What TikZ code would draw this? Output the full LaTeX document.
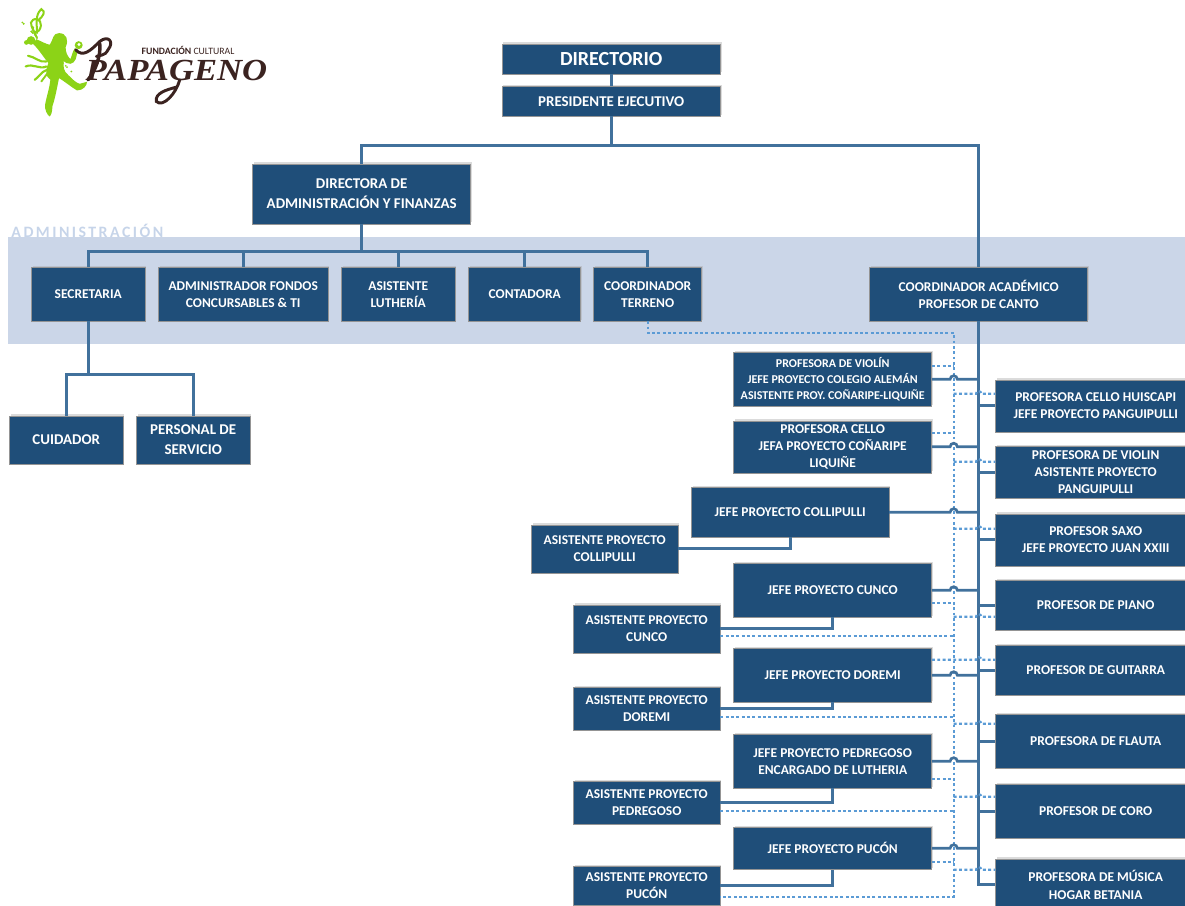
\documentclass[tikz,border=0pt]{standalone}
\usepackage{fontspec}
\setmainfont{Carlito}
\newfontfamily\spacedfont[LetterSpace=15.5]{Carlito}
\newfontfamily\logofont{Liberation Serif}
\usetikzlibrary{shadows}

\definecolor{cargoblue}{HTML}{1F4E79}
\definecolor{linkblue}{HTML}{41719C}
\definecolor{dotblue}{HTML}{5B9BD5}
\definecolor{bandblue}{HTML}{CBD6E8}
\definecolor{adminblue}{HTML}{C6D4E9}
\definecolor{logogreen}{HTML}{8CD317}
\definecolor{logobrown}{HTML}{3B2320}

\tikzset{
  cargo/.style={draw=black!42,line width=0.35pt,fill=cargoblue,text=white,align=center,inner sep=0pt,
    font=\bfseries\fontsize{10.1}{12.9}\selectfont,
    drop shadow={shadow xshift=1pt,shadow yshift=1pt,fill=black!35,opacity=.4}},
  bigcargo/.style={cargo,font=\bfseries\fontsize{11.2}{13.5}\selectfont},
  mainline/.style={draw=linkblue,line width=2.4pt},
  subline/.style={draw=linkblue,line width=2pt},
  dotline/.style={draw=dotblue,line width=1.6pt,dash pattern=on 2.2pt off 1.8pt},
  leaf/.style={draw=none,fill=logogreen}
}

\begin{document}
\begin{tikzpicture}[x=0.75pt,y=0.75pt,yscale=-1]
\useasboundingbox (0.3,0.2) rectangle (1185.3,906.2);

%Administration band
\fill [bandblue] (8.3,237.2) rectangle (1190,344.2);
\node [name=admintitle,anchor=west,inner sep=0pt,text=adminblue,font=\spacedfont\bfseries\fontsize{11.9}{12}\selectfont] at (11.5,231.5) {ADMINISTRACIÓN};

%Top boxes
\node [bigcargo,minimum width=164pt,minimum height=22.5pt,font=\bfseries\fontsize{15}{16}\selectfont] (directorio) at (611.5,59) {DIRECTORIO};
\node [bigcargo,minimum width=164pt,minimum height=22pt] (presidente) at (611.5,101.5) {PRESIDENTE EJECUTIVO};
\node [bigcargo,minimum width=163.5pt,minimum height=45pt] (directora) at (362,194) {DIRECTORA DE\\[1pt]ADMINISTRACIÓN Y FINANZAS};

%Administration row
\node [cargo,minimum width=85pt,minimum height=40pt] (secretaria) at (88.5,294.5) {SECRETARIA};
\node [cargo,minimum width=127pt,minimum height=40pt] (fondos) at (243.5,294.5) {ADMINISTRADOR FONDOS\\CONCURSABLES \& TI};
\node [cargo,minimum width=85pt,minimum height=40pt] (luthier) at (398.5,294.5) {ASISTENTE\\LUTHERÍA};
\node [cargo,minimum width=84pt,minimum height=40pt] (contadora) at (525,294.5) {CONTADORA};
\node [cargo,minimum width=81pt,minimum height=40pt] (terreno) at (648,294.5) {COORDINADOR\\TERRENO};
\node [cargo,minimum width=163.5pt,minimum height=40pt] (academico) at (979,294.5) {COORDINADOR ACADÉMICO\\PROFESOR DE CANTO};
\node [bigcargo,minimum width=85pt,minimum height=36pt] (cuidador) at (66.5,440) {CUIDADOR};
\node [bigcargo,minimum width=85pt,minimum height=36pt] (servicio) at (193.5,440) {PERSONAL DE\\[1pt]SERVICIO};

%Projects, left column
\node [cargo,minimum width=148.5pt,minimum height=40pt,font=\bfseries\fontsize{9}{11.7}\selectfont] (violin) at (833,379.5) {PROFESORA DE VIOLÍN\\JEFE PROYECTO COLEGIO ALEMÁN\\ASISTENTE PROY. COÑARIPE-LIQUIÑE};
\node [cargo,minimum width=148.5pt,minimum height=39pt] (cello) at (833,447) {PROFESORA CELLO\\JEFA PROYECTO COÑARIPE\\LIQUIÑE};
\node [cargo,minimum width=148pt,minimum height=37pt] (collipulli) at (790.5,512.5) {JEFE PROYECTO COLLIPULLI};
\node [cargo,minimum width=148.5pt,minimum height=40pt] (cunco) at (833,590.5) {JEFE PROYECTO CUNCO};
\node [cargo,minimum width=148.5pt,minimum height=40pt] (doremi) at (833,675.5) {JEFE PROYECTO DOREMI};
\node [cargo,minimum width=148.5pt,minimum height=40pt] (pedregoso) at (833,761.5) {JEFE PROYECTO PEDREGOSO\\ENCARGADO DE LUTHERIA};
\node [cargo,minimum width=148.5pt,minimum height=32pt] (pucon) at (833,848.5) {JEFE PROYECTO PUCÓN};

%Assistants
\node [cargo,minimum width=110pt,minimum height=36pt] (acollipulli) at (605,549) {ASISTENTE PROYECTO\\COLLIPULLI};
\node [cargo,minimum width=110pt,minimum height=36pt] (acunco) at (647,629) {ASISTENTE PROYECTO\\CUNCO};
\node [cargo,minimum width=110pt,minimum height=32pt] (adoremi) at (647,709) {ASISTENTE PROYECTO\\DOREMI};
\node [cargo,minimum width=110pt,minimum height=32pt] (apedregoso) at (647,803) {ASISTENTE PROYECTO\\PEDREGOSO};
\node [cargo,minimum width=110pt,minimum height=29pt] (apucon) at (647,886) {ASISTENTE PROYECTO\\PUCÓN};

%Teachers, right column
\node [cargo,minimum width=150pt,minimum height=39pt] (huiscapi) at (1096,406) {PROFESORA CELLO HUISCAPI\\JEFE PROYECTO PANGUIPULLI};
\node [cargo,minimum width=150pt,minimum height=39pt] (violinp) at (1096,472.5) {PROFESORA DE VIOLIN\\ASISTENTE PROYECTO\\PANGUIPULLI};
\node [cargo,minimum width=150pt,minimum height=39pt] (saxo) at (1096,540) {PROFESOR SAXO\\JEFE PROYECTO JUAN XXIII};
\node [cargo,minimum width=150pt,minimum height=37pt] (piano) at (1096,605.5) {PROFESOR DE PIANO};
\node [cargo,minimum width=150pt,minimum height=37pt] (guitarra) at (1096,670.5) {PROFESOR DE GUITARRA};
\node [cargo,minimum width=150pt,minimum height=40pt] (flauta) at (1096,741.5) {PROFESORA DE FLAUTA};
\node [cargo,minimum width=150pt,minimum height=40pt] (coro) at (1096,811.5) {PROFESOR DE CORO};
\node [cargo,minimum width=150pt,minimum height=39pt] (musica) at (1096,885) {PROFESORA DE MÚSICA\\HOGAR BETANIA};

%Coordinates for the two long rails
\coordinate (railtop) at (979,146);
\coordinate (railbot) at (979,885);
\coordinate (dotcorner) at (954,333);
\coordinate (dotbot) at (954,897);

%Solid connectors
\draw [mainline] (directorio) -- (presidente);
\draw [mainline] (presidente.south) -- (presidente.south |- railtop);
\draw [mainline] (directora.north) |- (railtop) -- (academico.north);
\draw [mainline] (academico.south) -- (railbot) -- (musica.west);
\foreach \n in {secretaria,fondos,luthier,contadora,terreno}
  \draw [subline] (directora.south) -- (directora.south |- 0,252) -| (\n.north);
\draw [mainline] (secretaria.south) -- (secretaria.south |- 0,375);
\foreach \n in {cuidador,servicio}
  \draw [subline] (secretaria.south |- 0,375) -| (\n.north);
\foreach \n in {huiscapi,violinp,saxo,piano,guitarra,flauta,coro}
  \draw [subline] (\n.west) -- (\n.west -| railbot);
\foreach \n/\m in {acollipulli/collipulli,acunco/cunco,adoremi/doremi,apedregoso/pedregoso,apucon/pucon}
  \draw [subline] (\n.east) -| (\m.south);

%Dotted connectors
\draw [dotline] (terreno.south) |- (dotcorner) -- (dotbot) -- (dotbot -| apucon.east);
\draw [dotline] (violin.east |- 0,366) -- (dotcorner |- 0,366);
\draw [dotline] (cello.east |- 0,433) -- (dotcorner |- 0,433);
\draw [dotline] (cunco.east |- 0,603) -- (dotcorner |- 0,603);
\draw [dotline] (acunco.east |- 0,636) -- (dotcorner |- 0,636);
\draw [dotline] (adoremi.east |- 0,717) -- (dotcorner |- 0,717);
\draw [dotline] (pedregoso.east |- 0,779) -- (dotcorner |- 0,779);
\draw [dotline] (apedregoso.east |- 0,811) -- (dotcorner |- 0,811);
\draw [dotline] (pucon.east |- 0,862) -- (dotcorner |- 0,862);
\foreach \n/\yy in {huiscapi/394,violinp/462,saxo/529,piano/617,flauta/724,coro/797,musica/870}
  \draw [dotline] (dotcorner |- 0,\yy) -- ([xshift=-2pt]railbot |- 0,\yy) arc [start angle=180,end angle=360,radius=2pt] -- (\n.west |- 0,\yy);
\draw [dotline] (doremi.east |- 0,660) -- ([xshift=-2pt]railbot |- 0,660) arc [start angle=180,end angle=360,radius=2pt] -- (guitarra.west |- 0,660);

%Project lines hop over the dotted rail
\foreach \n in {violin,cello,collipulli,cunco,doremi,pedregoso,pucon}
  \draw [subline] (\n.east) -- ([xshift=-2.7pt]\n.east -| dotcorner) arc [start angle=180,end angle=360,radius=2.7pt] -- (\n.east -| railbot);

%Logo
\begin{scope}[x=0.25pt,y=0.25pt]
\fill [leaf] (150,135) .. controls (162,118) and (158,100) .. (178,100) .. controls (200,100) and (208,120) .. (198,142)
  .. controls (196,155) and (205,172) .. (212,178) .. controls (218,165) and (218,155) .. (226,145) -- (233,150)
  .. controls (232,170) and (228,190) .. (212,192) .. controls (202,192) and (196,188) .. (192,184)
  .. controls (190,200) and (192,215) .. (205,225) .. controls (218,238) and (230,250) .. (240,252)
  -- (262,246) .. controls (262,258) and (250,272) .. (232,272) .. controls (215,262) and (195,245) .. (178,235)
  .. controls (172,262) and (168,290) .. (158,320) .. controls (158,335) and (155,345) .. (150,350)
  .. controls (142,345) and (135,330) .. (136,315) .. controls (142,285) and (150,262) .. (152,240)
  .. controls (135,230) and (138,205) .. (146,190) .. controls (130,170) and (118,150) .. (100,132) -- (110,118)
  .. controls (125,125) and (138,132) .. (150,135) -- cycle;
\fill [leaf] (94,122) circle [radius=13];
\fill [leaf] (80,128) circle [radius=7];
\draw [logogreen,line width=1.5pt,line cap=round] (112,115) .. controls (100,85) and (85,70) .. (100,60) .. controls (118,50) and (132,72) .. (118,92) .. controls (108,102) and (96,95) .. (100,82);
\draw [logogreen,line width=1.5pt,line cap=round] (112,100) .. controls (112,75) and (105,45) .. (125,28) .. controls (140,35) and (130,50) .. (115,62);
\foreach \xa/\ya/\xb/\yb in {165,100,152,105,172,95,158,72,180,95,178,68,190,98,202,72,198,110,215,98}
  \draw [logogreen,line width=1.4pt,line cap=round] (\xa,\ya) -- (\xb,\yb);
\draw [logogreen,line width=1.6pt,line cap=round] (140,185) .. controls (120,190) and (105,170) .. (85,168);
\draw [logogreen,line width=1.6pt,line cap=round] (140,200) .. controls (120,210) and (100,190) .. (78,200);
\draw [logogreen,line width=1.6pt,line cap=round] (142,210) .. controls (125,215) and (115,235) .. (105,240);
\draw [logogreen,line width=1.4pt,line cap=round] (142,222) -- (125,245);
\fill [logogreen] (237,136) circle [radius=12];
\fill [white] (238,134) circle [radius=5];
%word mark
\node [name=logofund,inner sep=0pt,text=logobrown,font=\fontsize{7.3}{9}\selectfont] at (565,151) {\textbf{FUNDACIÓN} CULTURAL};
\node [name=logoword,inner sep=0pt,xscale=1.13,text=logobrown,font=\logofont\bfseries\itshape\fontsize{23}{24}\selectfont] at (530,212) {PAPAGENO};
\draw [logobrown,line width=2.2pt,line cap=round] (228,150) .. controls (250,175) and (275,150) .. (300,125) .. controls (325,105) and (345,125) .. (325,150) .. controls (315,170) and (300,165) .. (290,170);
\draw [logobrown,line width=2.6pt,line cap=round] (300,130) .. controls (305,170) and (285,215) .. (265,240);
\draw [logobrown,line width=2.2pt,line cap=round] (540,240) .. controls (530,280) and (490,325) .. (470,305) .. controls (465,280) and (500,270) .. (530,262);
\end{scope}
\end{tikzpicture}
\end{document}
